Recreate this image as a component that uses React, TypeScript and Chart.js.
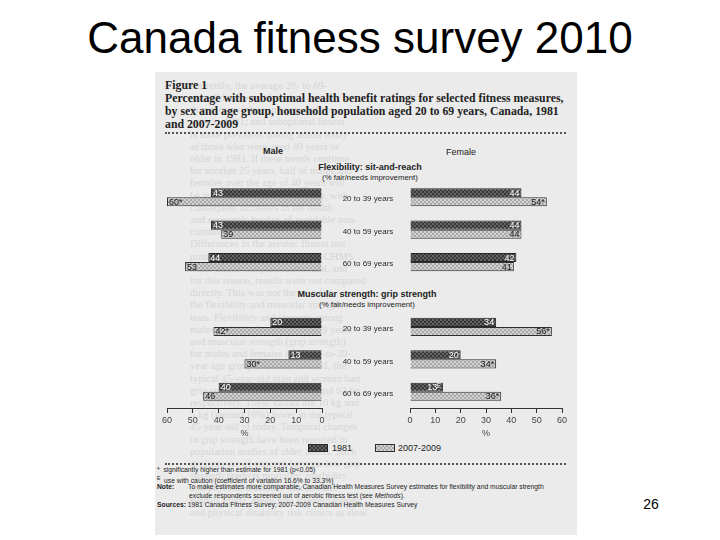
import React, { useEffect, useRef } from "react";
import { Chart, registerables } from "chart.js";

Chart.register(...registerables);

// ---------- data ----------
const slideTitle = "Canada fitness survey 2010";
const pageNumber = "26";
const figureLabel = "Figure 1";
const figureTitle = [
  "Percentage with suboptimal health benefit ratings for selected fitness measures,",
  "by sex and age group, household population aged 20 to 69 years, Canada, 1981",
  "and 2007-2009",
];
const categories = [
  "20 to 39 years",
  "40 to 59 years",
  "60 to 69 years",
  "",
  "20 to 39 years",
  "40 to 59 years",
  "60 to 69 years",
];
const male1981 = [43, 43, 44, null, 20, 13, 40];
const male2007 = [60, 39, 53, null, 42, 30, 46];
const female1981 = [44, 44, 42, null, 34, 20, 13];
const female2007 = [54, 44, 41, null, 56, 34, 36];
const male1981Marks = ["", "", "", "", "", "", ""];
const male2007Marks = ["*", "", "", "", "*", "*", ""];
const female1981Marks = ["", "", "", "", "", "", "ᴱ"];
const female2007Marks = ["*", "", "", "", "*", "*", "*"];
const seriesNames = ["1981", "2007-2009"];
const xMin = 0;
const xMax = 60;
const xStep = 10;
const sectionTitles = ["Flexibility: sit-and-reach", "Muscular strength: grip strength"];
const sectionSub = "(% fair/needs improvement)";
const footnotes = [
  "significantly higher than estimate for 1981 (p<0.05)",
  "use with caution (coefficient of variation 16.6% to 33.3%)",
  "To make estimates more comparable, Canadian Health Measures Survey estimates for flexibility and muscular strength",
  "exclude respondents screened out of aerobic fitness test (see ",
  "1981 Canada Fitness Survey; 2007-2009 Canadian Health Measures Survey",
];
const ghostLines = [
  "Currently, the average 20- to 69-",
  "year-old male and female is less fit",
  "than those of the same age and sex",
  "were in 1981; and suboptimal fitness",
  "is more prevalent among adults today",
  "as those who were aged 40 years or",
  "older in 1981.  If these trends continue",
  "for another 25 years, half of males and",
  "females over the age of 40 years will",
  "be in the lowest fitness category, with",
  "consequent increases in the health",
  "and economic burden of avoidable non-",
  "communicable disease.",
  "   Differences in the aerobic fitness test",
  "protocols between the CFS and CHMS",
  "make direct comparisons invalid, and",
  "for this reason, results were not compared",
  "directly.  This was not the case for",
  "the flexibility and muscular strength",
  "tests. Flexibility and strength among",
  "males and females aged 20 to 39 years",
  "and muscular strength (grip strength)",
  "for males and females in the 20-to-39-",
  "year age group declined.  In 1981, the",
  "typical 45-year-old man and woman had",
  "grip strength values of 104 kg and 62 kg,",
  "respectively.  These values are 10 kg and",
  "5 kg (around 10%) lower in the typical",
  "45-year-old of today.  Temporal changes",
  "in grip strength have been reported in",
  "population studies of older adults. Such",
  "declines are of concern because low grip",
  "strength predicts mortality, morbidity",
  "and physical disability risk in older",
  "   British adults, mean grip strength values",
  "and physical disability risk clinics as slow",
];

// ---------- helpers ----------
function makeChecker(ctx: CanvasRenderingContext2D, a: string, b: string) {
  const cv = document.createElement("canvas");
  cv.width = 4;
  cv.height = 4;
  const g = cv.getContext("2d")!;
  g.fillStyle = a;
  g.fillRect(0, 0, 4, 4);
  g.fillStyle = b;
  g.fillRect(0, 0, 2, 2);
  g.fillRect(2, 2, 2, 2);
  return ctx.createPattern(cv, "repeat")!;
}

const DARK_A = "#363636";
const DARK_B = "#646464";
const LIGHT_A = "#a9a9a9";
const LIGHT_B = "#d2d2d2";
const SANS = '"Liberation Sans", Arial, sans-serif';
const SERIF = '"Liberation Serif", "Times New Roman", serif';

function valueLabelPlugin(marks: string[][], side: "male" | "female") {
  return {
    id: "valueLabels",
    afterDatasetsDraw(chart: any) {
      const ctx = chart.ctx as CanvasRenderingContext2D;
      chart.data.datasets.forEach((ds: any, di: number) => {
        const meta = chart.getDatasetMeta(di);
        meta.data.forEach((bar: any, i: number) => {
          const v = ds.data[i];
          if (v == null) return;
          const text = `${v}${marks[di][i]}`;
          ctx.save();
          ctx.font = `9px ${SANS}`;
          ctx.fillStyle = di === 0 ? "#ffffff" : "#1a1a1a";
          ctx.textBaseline = "middle";
          if (side === "male") {
            ctx.textAlign = "left";
            ctx.fillText(text, bar.x + 2, bar.y + 0.5);
          } else {
            ctx.textAlign = "right";
            ctx.fillText(text, bar.x - 2, bar.y + 0.5);
          }
          ctx.restore();
        });
      });
    },
  };
}

const categoryLabelPlugin = {
  id: "categoryLabels",
  afterDraw(chart: any) {
    const ctx = chart.ctx as CanvasRenderingContext2D;
    const y = chart.scales.y;
    const cx = chart.chartArea.left - 42;
    ctx.save();
    ctx.font = `8px ${SANS}`;
    ctx.fillStyle = "#2a2a2a";
    ctx.textAlign = "center";
    ctx.textBaseline = "middle";
    (chart.data.labels as string[]).forEach((lab, i) => {
      if (!lab) return;
      ctx.fillText(lab, cx, y.getPixelForValue(i) + 2);
    });
    ctx.restore();
  },
};

function buildConfig(
  ctx: CanvasRenderingContext2D,
  d1981: (number | null)[],
  d2007: (number | null)[],
  reverse: boolean,
  padding: any,
  plugins: any[]
): any {
  return {
    type: "bar",
    data: {
      labels: categories,
      datasets: [
        {
          label: seriesNames[0],
          data: d1981,
          backgroundColor: makeChecker(ctx, DARK_A, DARK_B),
          borderColor: "#262626",
          borderWidth: 1,
          barPercentage: 1,
          categoryPercentage: 0.56,
        },
        {
          label: seriesNames[1],
          data: d2007,
          backgroundColor: makeChecker(ctx, LIGHT_A, LIGHT_B),
          borderColor: "#2e2e2e",
          borderWidth: 1,
          barPercentage: 1,
          categoryPercentage: 0.56,
        },
      ],
    },
    options: {
      indexAxis: "y",
      animation: false,
      responsive: false,
      maintainAspectRatio: false,
      layout: { padding },
      plugins: { legend: { display: false }, tooltip: { enabled: false } },
      scales: {
        y: { display: false },
        x: {
          min: xMin,
          max: xMax,
          reverse,
          ticks: {
            stepSize: xStep,
            color: "#444",
            padding: 3,
            font: { family: SANS, size: 9, lineHeight: 1 },
          },
          grid: { drawOnChartArea: false, tickLength: 5, color: "#333", lineWidth: 1 },
          border: { color: "#333", width: 1 },
          title: {
            display: true,
            text: "%",
            color: "#444",
            padding: { top: 1, bottom: 0 },
            font: { family: SANS, size: 9, lineHeight: 1 },
          },
        },
      },
    },
    plugins,
  };
}

function Txt(props: {
  x: number;
  y: number;
  s: number;
  children: any;
  align?: "left" | "center" | "right";
  w?: number;
  style?: any;
}) {
  const { x, y, s, children, align = "left", w = 500, style } = props;
  const left = align === "left" ? x : align === "center" ? x - w / 2 : x - w;
  return (
    <div
      style={{
        position: "absolute",
        left,
        top: y - s * 0.6,
        width: w,
        textAlign: align,
        fontSize: s,
        lineHeight: `${s * 1.2}px`,
        whiteSpace: "nowrap",
        ...style,
      }}
    >
      {children}
    </div>
  );
}

export default function App() {
  const maleRef = useRef<HTMLCanvasElement | null>(null);
  const femaleRef = useRef<HTMLCanvasElement | null>(null);

  useEffect(() => {
    const mc = maleRef.current!.getContext("2d")!;
    const fc = femaleRef.current!.getContext("2d")!;
    const male = new Chart(
      mc,
      buildConfig(mc, male1981, male2007, true, { left: 17, right: 16, top: 8, bottom: 0 }, [
        valueLabelPlugin([male1981Marks, male2007Marks], "male"),
      ])
    );
    const female = new Chart(
      fc,
      buildConfig(fc, female1981, female2007, false, { left: 72, right: 21, top: 8, bottom: 0 }, [
        valueLabelPlugin([female1981Marks, female2007Marks], "female"),
        categoryLabelPlugin,
      ])
    );
    return () => {
      male.destroy();
      female.destroy();
    };
  }, []);

  const ink = "#222";
  const checkerDark = `repeating-conic-gradient(${DARK_A} 0 25%, ${DARK_B} 0 50%) 0 0/4px 4px`;
  const checkerLight = `repeating-conic-gradient(${LIGHT_A} 0 25%, ${LIGHT_B} 0 50%) 0 0/4px 4px`;

  return (
    <div
      style={{
        position: "absolute",
        left: 0,
        top: 0,
        width: 720,
        height: 540,
        background: "#ffffff",
        overflow: "hidden",
        fontFamily: SANS,
        color: "#000",
      }}
    >
      {/* slide title */}
      <Txt x={360} y={38} s={44} align="center" w={700}>
        {slideTitle}
      </Txt>
      {/* scanned figure background */}
      <div style={{ position: "absolute", left: 155, top: 72, width: 422, height: 463, background: "#ebebeb" }} />
      {/* ghost bleed-through text */}
      {ghostLines.map((l, i) => (
        <Txt key={"g" + i} x={190} y={86 + i * 12.2} s={10.5} style={{ fontFamily: SERIF, color: "#d6d6d6" }}>
          {l}
        </Txt>
      ))}
      {/* figure header */}
      <Txt x={165} y={85} s={11.8} style={{ fontFamily: SERIF, fontWeight: "bold", color: ink }}>
        {figureLabel}
      </Txt>
      {figureTitle.map((l, i) => (
        <Txt key={"t" + i} x={165} y={98 + i * 13} s={11.8} style={{ fontFamily: SERIF, fontWeight: "bold", color: ink }}>
          {l}
        </Txt>
      ))}
      <div style={{ position: "absolute", left: 165, top: 132, width: 401, height: 0, borderTop: "2px dotted #555" }} />
      {/* Male / Female headers */}
      <Txt x={273} y={151} s={9} align="center" w={100} style={{ fontWeight: "bold", color: ink }}>
        Male
      </Txt>
      <Txt x={461} y={152} s={9} align="center" w={100} style={{ color: ink }}>
        Female
      </Txt>
      {/* section titles */}
      <Txt x={370} y={167} s={9} align="center" w={200} style={{ fontWeight: "bold", color: ink }}>
        {sectionTitles[0]}
      </Txt>
      <Txt x={370} y={178} s={7.8} align="center" w={200} style={{ color: ink }}>
        {sectionSub}
      </Txt>
      <Txt x={367} y={294} s={9} align="center" w={200} style={{ fontWeight: "bold", color: ink }}>
        {sectionTitles[1]}
      </Txt>
      <Txt x={367} y={305} s={7.8} align="center" w={200} style={{ color: ink }}>
        {sectionSub}
      </Txt>
      {/* charts */}
      <canvas ref={maleRef} width={188} height={265} style={{ position: "absolute", left: 150, top: 173 }} />
      <canvas ref={femaleRef} width={245} height={265} style={{ position: "absolute", left: 338, top: 173 }} />
      {/* legend */}
      <div style={{ position: "absolute", left: 308, top: 444, width: 20, height: 8, background: checkerDark, border: "1px solid #262626", boxSizing: "border-box" }} />
      <Txt x={332} y={448} s={9} style={{ color: ink }}>
        {seriesNames[0]}
      </Txt>
      <div style={{ position: "absolute", left: 375, top: 444, width: 20, height: 8, background: checkerLight, border: "1px solid #2e2e2e", boxSizing: "border-box" }} />
      <Txt x={398} y={448} s={9} style={{ color: ink }}>
        {seriesNames[1]}
      </Txt>
      {/* footnote rule */}
      <div style={{ position: "absolute", left: 165, top: 463, width: 401, height: 0, borderTop: "2px dotted #555" }} />
      {/* footnotes */}
      <Txt x={157} y={470} s={6.75} style={{ color: ink }}>
        <span>*&nbsp;&nbsp;</span>
        {footnotes[0]}
      </Txt>
      <Txt x={157} y={478.5} s={6.75} style={{ color: ink }}>
        <sup style={{ fontSize: 5 }}>E</sup>&nbsp;&nbsp;{footnotes[1]}
      </Txt>
      <Txt x={157} y={487} s={6.75} style={{ color: ink }}>
        <b>Note:</b>
      </Txt>
      <Txt x={188} y={487} s={6.75} style={{ color: ink }}>
        {footnotes[2]}
      </Txt>
      <Txt x={189} y={496} s={6.75} style={{ color: ink }}>
        {footnotes[3]}
        <i>Methods</i>).
      </Txt>
      <Txt x={157} y={505} s={6.75} style={{ color: ink }}>
        <b>Sources:</b> {footnotes[4]}
      </Txt>
      {/* page number */}
      <Txt x={651} y={504} s={14} align="center" w={60}>
        {pageNumber}
      </Txt>
    </div>
  );
}
